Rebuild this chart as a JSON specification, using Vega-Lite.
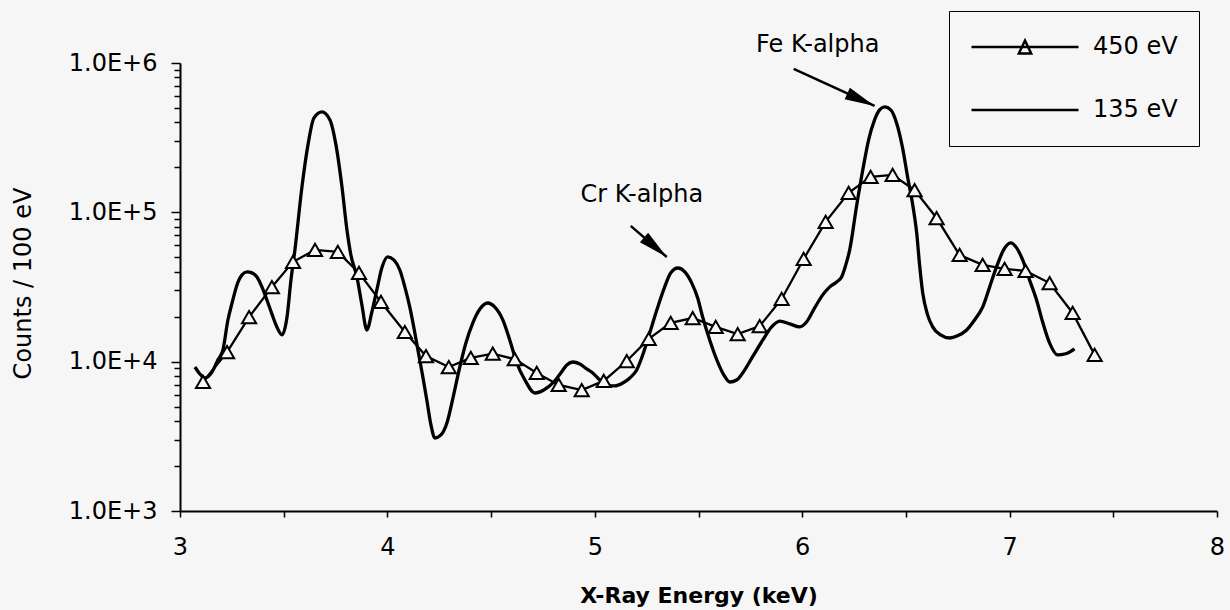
{
  "$schema": "https://vega.github.io/schema/vega-lite/v6.json",
  "width": 1037,
  "height": 448,
  "autosize": {"type": "none"},
  "padding": {"left": 180, "top": 63, "right": 13, "bottom": 99},
  "background": "#f6f6f6",
  "config": {"view": {"stroke": null}, "font": "DejaVu Sans"},
  "datasets": {
    "s450": [
      {"E": 3.111, "C": 7310}, {"E": 3.227, "C": 11600}, {"E": 3.333, "C": 19900}, {"E": 3.443, "C": 31600},
      {"E": 3.545, "C": 46600}, {"E": 3.651, "C": 56000}, {"E": 3.761, "C": 54300}, {"E": 3.863, "C": 39300},
      {"E": 3.969, "C": 25100}, {"E": 4.084, "C": 15800}, {"E": 4.186, "C": 10900}, {"E": 4.296, "C": 9210},
      {"E": 4.402, "C": 10600}, {"E": 4.508, "C": 11300}, {"E": 4.614, "C": 10400}, {"E": 4.720, "C": 8400},
      {"E": 4.826, "C": 6980}, {"E": 4.937, "C": 6460}, {"E": 5.043, "C": 7430}, {"E": 5.154, "C": 10100},
      {"E": 5.260, "C": 14200}, {"E": 5.366, "C": 18200}, {"E": 5.472, "C": 19600}, {"E": 5.583, "C": 17100},
      {"E": 5.689, "C": 15300}, {"E": 5.795, "C": 17300}, {"E": 5.901, "C": 26300}, {"E": 6.007, "C": 48700},
      {"E": 6.113, "C": 86300}, {"E": 6.224, "C": 135000}, {"E": 6.330, "C": 173000}, {"E": 6.436, "C": 178000},
      {"E": 6.542, "C": 141000}, {"E": 6.648, "C": 91600}, {"E": 6.759, "C": 51800}, {"E": 6.870, "C": 44500},
      {"E": 6.976, "C": 41800}, {"E": 7.077, "C": 40500}, {"E": 7.193, "C": 33600}, {"E": 7.304, "C": 21200},
      {"E": 7.410, "C": 11100}
    ],
    "s135": [
      {"E": 3.072, "C": 9210}, {"E": 3.096, "C": 8270}, {"E": 3.120, "C": 7780}, {"E": 3.154, "C": 8530},
      {"E": 3.183, "C": 10300}, {"E": 3.207, "C": 11980}, {"E": 3.231, "C": 19000}, {"E": 3.251, "C": 24700},
      {"E": 3.280, "C": 34200}, {"E": 3.299, "C": 38100}, {"E": 3.323, "C": 39900}, {"E": 3.347, "C": 39300},
      {"E": 3.371, "C": 36900}, {"E": 3.395, "C": 31700}, {"E": 3.419, "C": 25900}, {"E": 3.443, "C": 20900},
      {"E": 3.467, "C": 17100}, {"E": 3.492, "C": 15100}, {"E": 3.516, "C": 19900}, {"E": 3.535, "C": 35300},
      {"E": 3.554, "C": 56000}, {"E": 3.588, "C": 148000}, {"E": 3.617, "C": 283000}, {"E": 3.646, "C": 429000},
      {"E": 3.684, "C": 470000}, {"E": 3.723, "C": 416000}, {"E": 3.752, "C": 283000}, {"E": 3.781, "C": 148000},
      {"E": 3.805, "C": 76200}, {"E": 3.824, "C": 51800}, {"E": 3.853, "C": 36900}, {"E": 3.877, "C": 24000},
      {"E": 3.901, "C": 16300}, {"E": 3.925, "C": 21500}, {"E": 3.949, "C": 30200}, {"E": 3.973, "C": 42400},
      {"E": 4.002, "C": 50300}, {"E": 4.031, "C": 48000}, {"E": 4.060, "C": 41100}, {"E": 4.084, "C": 31700},
      {"E": 4.108, "C": 23200}, {"E": 4.128, "C": 16800}, {"E": 4.147, "C": 12000}, {"E": 4.171, "C": 7900},
      {"E": 4.190, "C": 5540}, {"E": 4.210, "C": 3770}, {"E": 4.229, "C": 3080}, {"E": 4.258, "C": 3230},
      {"E": 4.287, "C": 3890}, {"E": 4.316, "C": 5710}, {"E": 4.349, "C": 9210}, {"E": 4.378, "C": 13300},
      {"E": 4.412, "C": 18200}, {"E": 4.446, "C": 22500}, {"E": 4.484, "C": 24700}, {"E": 4.518, "C": 23200},
      {"E": 4.557, "C": 19000}, {"E": 4.590, "C": 13970}, {"E": 4.624, "C": 9800}, {"E": 4.663, "C": 7540},
      {"E": 4.711, "C": 6170}, {"E": 4.754, "C": 6460}, {"E": 4.798, "C": 7200}, {"E": 4.836, "C": 8400},
      {"E": 4.865, "C": 9500}, {"E": 4.894, "C": 9950}, {"E": 4.928, "C": 9650}, {"E": 4.961, "C": 8940},
      {"E": 4.990, "C": 8400}, {"E": 5.024, "C": 7540}, {"E": 5.063, "C": 6980}, {"E": 5.096, "C": 6880},
      {"E": 5.135, "C": 7200}, {"E": 5.169, "C": 7780}, {"E": 5.202, "C": 8800}, {"E": 5.236, "C": 11600},
      {"E": 5.265, "C": 15600}, {"E": 5.299, "C": 22200}, {"E": 5.337, "C": 31700}, {"E": 5.366, "C": 39300},
      {"E": 5.400, "C": 42400}, {"E": 5.434, "C": 39900}, {"E": 5.467, "C": 33700}, {"E": 5.496, "C": 26700},
      {"E": 5.520, "C": 19900}, {"E": 5.554, "C": 13970}, {"E": 5.588, "C": 10300}, {"E": 5.622, "C": 8150},
      {"E": 5.651, "C": 7310}, {"E": 5.684, "C": 7540}, {"E": 5.713, "C": 8400}, {"E": 5.761, "C": 10800},
      {"E": 5.810, "C": 13970}, {"E": 5.848, "C": 16800}, {"E": 5.892, "C": 18700}, {"E": 5.940, "C": 17900},
      {"E": 5.988, "C": 17100}, {"E": 6.022, "C": 18500}, {"E": 6.060, "C": 22900}, {"E": 6.099, "C": 28000},
      {"E": 6.133, "C": 31700}, {"E": 6.166, "C": 34200}, {"E": 6.190, "C": 36900}, {"E": 6.210, "C": 44400},
      {"E": 6.229, "C": 56000}, {"E": 6.263, "C": 112000}, {"E": 6.292, "C": 192000}, {"E": 6.320, "C": 305000},
      {"E": 6.349, "C": 416000}, {"E": 6.373, "C": 485000}, {"E": 6.398, "C": 508000}, {"E": 6.427, "C": 485000},
      {"E": 6.455, "C": 397000}, {"E": 6.484, "C": 270000}, {"E": 6.508, "C": 173000}, {"E": 6.533, "C": 112000},
      {"E": 6.552, "C": 72800}, {"E": 6.566, "C": 44400}, {"E": 6.581, "C": 28900}, {"E": 6.605, "C": 20500},
      {"E": 6.629, "C": 17100}, {"E": 6.667, "C": 15100}, {"E": 6.711, "C": 14400}, {"E": 6.749, "C": 14900},
      {"E": 6.793, "C": 16300}, {"E": 6.831, "C": 19000}, {"E": 6.870, "C": 23200}, {"E": 6.904, "C": 31700},
      {"E": 6.937, "C": 43100}, {"E": 6.971, "C": 56000}, {"E": 7.005, "C": 62400}, {"E": 7.034, "C": 57800},
      {"E": 7.063, "C": 48000}, {"E": 7.096, "C": 35300}, {"E": 7.130, "C": 25900}, {"E": 7.159, "C": 18500},
      {"E": 7.193, "C": 13300}, {"E": 7.231, "C": 11100}, {"E": 7.270, "C": 11300}, {"E": 7.313, "C": 12200}
    ],
    "legendItems": [{"series": "450 eV"}, {"series": "135 eV"}],
    "labels": [
      {"name": "Fe", "E": 6.075, "C": 1320000, "text": "Fe K-alpha"},
      {"name": "Cr", "E": 5.227, "C": 131000, "text": "Cr K-alpha"}
    ],
    "arrows": [
      {"name": "Fe", "E": 5.959, "C": 912000, "E2": 6.349, "C2": 516000},
      {"name": "Cr", "E": 5.173, "C": 81100, "E2": 5.347, "C2": 50200}
    ]
  },
  "layer": [
    {
      "data": {"name": "s135"},
      "mark": {"type": "line", "interpolate": "monotone", "stroke": "black", "strokeWidth": 3.3},
      "encoding": {
        "x": {
          "field": "E", "type": "quantitative",
          "scale": {"domain": [3, 8], "nice": false, "zero": false},
          "axis": {
            "values": [3, 3.5, 4, 4.5, 5, 5.5, 6, 6.5, 7, 7.5, 8],
            "labelExpr": "datum.value % 1 === 0 ? format(datum.value, 'd') : ''",
            "title": "X-Ray Energy (keV)",
            "grid": false, "labelFlush": false, "labelOverlap": false,
            "domainColor": "black", "domainWidth": 2,
            "tickColor": "black", "tickWidth": 1.5, "tickSize": 6,
            "labelFont": "DejaVu Sans", "labelFontSize": 24, "labelColor": "black", "labelPadding": 18,
            "titleFont": "DejaVu Sans", "titleFontSize": 22, "titleFontWeight": "bold", "titleColor": "black",
            "titleY": 84, "titleBaseline": "middle"
          }
        },
        "y": {
          "field": "C", "type": "quantitative",
          "scale": {"type": "log", "domain": [1000, 1000000], "nice": false},
          "axis": {
            "values": [1000, 2000, 3000, 4000, 5000, 6000, 7000, 8000, 9000,
                       10000, 20000, 30000, 40000, 50000, 60000, 70000, 80000, 90000,
                       100000, 200000, 300000, 400000, 500000, 600000, 700000, 800000, 900000, 1000000],
            "labelExpr": "abs(log(datum.value)/LN10 - round(log(datum.value)/LN10)) < 0.000001 ? '1.0E+' + round(log(datum.value)/LN10) : ''",
            "tickSize": {"condition": {"test": "abs(log(datum.value)/LN10 - round(log(datum.value)/LN10)) < 0.000001", "value": 9}, "value": 6},
            "title": "Counts / 100 eV",
            "grid": false, "labelOverlap": false, "labelFlush": false,
            "domainColor": "black", "domainWidth": 2,
            "tickColor": "black", "tickWidth": 1.5,
            "labelFont": "DejaVu Sans", "labelFontSize": 24, "labelColor": "black", "labelPadding": 14,
            "titleFont": "DejaVu Sans", "titleFontSize": 24, "titleFontWeight": "normal", "titleColor": "black",
            "titleX": -157, "titleY": 220, "titleAngle": -90, "titleAlign": "center", "titleBaseline": "middle"
          }
        }
      }
    },
    {
      "data": {"name": "s450"},
      "mark": {"type": "line", "stroke": "black", "strokeWidth": 2.3},
      "encoding": {
        "x": {"field": "E", "type": "quantitative"},
        "y": {"field": "C", "type": "quantitative"}
      }
    },
    {
      "data": {"name": "s450"},
      "mark": {"type": "point", "shape": "triangle-up", "size": 200, "filled": true, "fill": "#f6f6f6", "stroke": "black", "strokeWidth": 2, "opacity": 1},
      "encoding": {
        "x": {"field": "E", "type": "quantitative"},
        "y": {"field": "C", "type": "quantitative"}
      }
    },
    {
      "data": {"name": "legendItems"},
      "mark": {"type": "point", "opacity": 0},
      "encoding": {
        "shape": {
          "field": "series", "type": "nominal",
          "scale": {"domain": ["450 eV", "135 eV"], "range": ["M-1,0H1M0,-0.12L0.115,0.12L-0.115,0.12Z", "M-1,0H1"]},
          "legend": {
            "title": null, "orient": "none", "legendX": 769, "legendY": -52,
            "strokeColor": "black", "padding": 21,
            "symbolSize": 11449, "clipHeight": 30, "rowPadding": 33,
            "labelFont": "DejaVu Sans", "labelFontSize": 24, "labelColor": "black", "labelOffset": 13,
            "symbolStrokeWidth": 2.5, "symbolStrokeColor": "black", "symbolFillColor": "#f6f6f6", "symbolOpacity": 1,
            "encode": {
              "legend": {"update": {"strokeWidth": {"value": 2}}},
              "symbols": {"update": {"opacity": {"value": 1}, "fill": {"value": "#f6f6f6"}, "stroke": {"value": "black"}, "strokeWidth": {"value": 2.5}, "size": {"value": 11449}}}
            }
          }
        }
      }
    },
    {
      "data": {"name": "arrows"},
      "mark": {"type": "rule", "stroke": "black", "strokeWidth": 2.5},
      "encoding": {
        "x": {"field": "E", "type": "quantitative"},
        "y": {"field": "C", "type": "quantitative"},
        "x2": {"field": "E2"},
        "y2": {"field": "C2"}
      }
    },
    {
      "data": {"name": "arrows"},
      "transform": [{"filter": "datum.name === 'Fe'"}],
      "mark": {"type": "point", "shape": "M0,0L0.42,2L-0.42,2Z", "size": 900, "filled": true, "fill": "black", "strokeWidth": 0, "opacity": 1, "angle": 114.5},
      "encoding": {
        "x": {"field": "E2", "type": "quantitative"},
        "y": {"field": "C2", "type": "quantitative"}
      }
    },
    {
      "data": {"name": "arrows"},
      "transform": [{"filter": "datum.name === 'Cr'"}],
      "mark": {"type": "point", "shape": "M0,0L0.42,2L-0.42,2Z", "size": 900, "filled": true, "fill": "black", "strokeWidth": 0, "opacity": 1, "angle": 130.7},
      "encoding": {
        "x": {"field": "E2", "type": "quantitative"},
        "y": {"field": "C2", "type": "quantitative"}
      }
    },
    {
      "data": {"name": "labels"},
      "mark": {"type": "text", "font": "DejaVu Sans", "fontSize": 24, "color": "black", "align": "center", "baseline": "middle"},
      "encoding": {
        "x": {"field": "E", "type": "quantitative"},
        "y": {"field": "C", "type": "quantitative"},
        "text": {"field": "text"}
      }
    }
  ]
}
